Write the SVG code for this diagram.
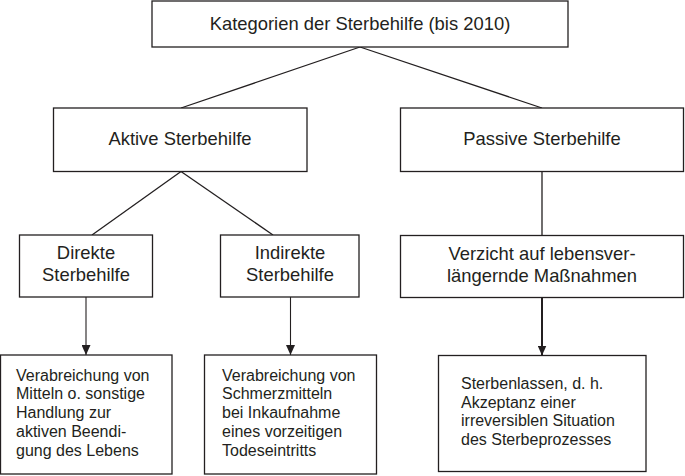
<svg xmlns="http://www.w3.org/2000/svg" width="685" height="476" viewBox="0 0 685 476">
<defs>
<style>
.box{fill:#fff;stroke:#231f20;stroke-width:1.3}
.t{font-family:"Liberation Sans",Arial,sans-serif;fill:#231f20}
.h{font-size:18.4px;text-anchor:middle}
.s{font-size:16px}
.ln{stroke:#231f20;stroke-width:1.3;fill:none}
.ar{stroke:#231f20;stroke-width:1.1;fill:none;marker-end:url(#ah)}
</style>
<marker id="ah" markerUnits="userSpaceOnUse" markerWidth="10" markerHeight="9" refX="10" refY="4.5" orient="auto" viewBox="0 0 10 9">
<path d="M0,0 L10,4.5 L0,9 z" fill="#231f20"/>
</marker>
</defs>
<rect width="685" height="476" fill="#fff"/>
<g id="connectors">
<line class="ln" x1="360" y1="47" x2="181" y2="108"/>
<line class="ln" x1="360" y1="47" x2="542" y2="108"/>
<line class="ln" x1="181" y1="171.5" x2="92" y2="235"/>
<line class="ln" x1="181" y1="171.5" x2="273" y2="235"/>
<line class="ln" x1="542" y1="171.5" x2="542" y2="235.5"/>
<line class="ar" x1="86" y1="297" x2="86" y2="355"/>
<line class="ar" x1="290.5" y1="297" x2="290.5" y2="355"/>
<line class="ar" style="stroke-width:2" x1="542" y1="297.5" x2="542" y2="355.5"/>
</g>
<g id="n-top">
<rect class="box" x="152" y="1" width="416" height="46"/>
<text class="t h" x="360" y="30">Kategorien der Sterbehilfe (bis 2010)</text>
</g>
<g id="n-aktiv">
<rect class="box" x="53.5" y="108" width="253.5" height="63.5"/>
<text class="t h" x="180" y="145">Aktive Sterbehilfe</text>
</g>
<g id="n-passiv">
<rect class="box" x="400.5" y="108" width="283" height="63.5"/>
<text class="t h" x="542" y="145">Passive Sterbehilfe</text>
</g>
<g id="n-direkt">
<rect class="box" x="19.5" y="235" width="133" height="62"/>
<text class="t h" x="86" y="259">Direkte</text>
<text class="t h" x="86" y="281">Sterbehilfe</text>
</g>
<g id="n-indirekt">
<rect class="box" x="220.5" y="235" width="138.5" height="62"/>
<text class="t h" x="290" y="259">Indirekte</text>
<text class="t h" x="290" y="281">Sterbehilfe</text>
</g>
<g id="n-verzicht">
<rect class="box" x="400.5" y="235.5" width="283" height="62"/>
<text class="t h" x="542" y="260">Verzicht auf lebensver-</text>
<text class="t h" x="542" y="282">längernde Maßnahmen</text>
</g>
<g id="n-b1">
<rect class="box" x="0.5" y="355" width="171.5" height="119"/>
<text class="t s" x="16" y="380.5">Verabreichung von</text>
<text class="t s" x="16" y="399.3">Mitteln o. sonstige</text>
<text class="t s" x="16" y="418">Handlung zur</text>
<text class="t s" x="16" y="436.8">aktiven Beendi-</text>
<text class="t s" x="16" y="455.6">gung des Lebens</text>
</g>
<g id="n-b2">
<rect class="box" x="204.5" y="355" width="172" height="119"/>
<text class="t s" x="222" y="380.5">Verabreichung von</text>
<text class="t s" x="222" y="399.3">Schmerzmitteln</text>
<text class="t s" x="222" y="418">bei Inkaufnahme</text>
<text class="t s" x="222" y="436.8">eines vorzeitigen</text>
<text class="t s" x="222" y="455.6">Todeseintritts</text>
</g>
<g id="n-b3">
<rect class="box" x="438.5" y="355.5" width="207.5" height="116"/>
<text class="t s" x="461" y="389">Sterbenlassen, d. h.</text>
<text class="t s" x="461" y="407.7">Akzeptanz einer</text>
<text class="t s" x="461" y="426.4">irreversiblen Situation</text>
<text class="t s" x="461" y="445.1">des Sterbeprozesses</text>
</g>
</svg>
